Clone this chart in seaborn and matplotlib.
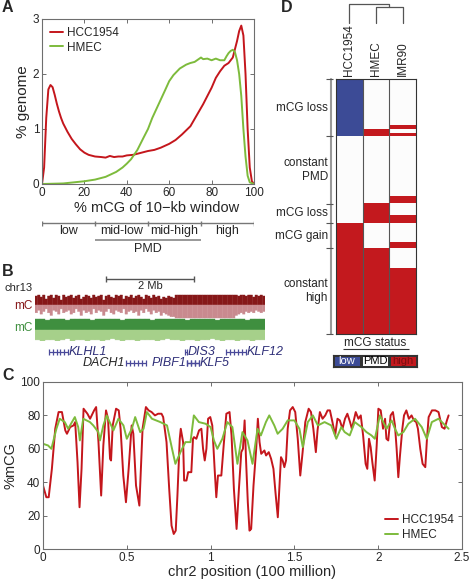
import numpy as np
import pandas as pd
import matplotlib
matplotlib.use('Agg')
import matplotlib.pyplot as plt
from matplotlib.colors import ListedColormap
import seaborn as sns

sns.set_style('ticks')
plt.rcParams['font.family'] = ['Liberation Sans', 'DejaVu Sans']

W, H = 472, 580
RED = '#c4161c'
GREEN = '#7dbb3c'
AXC = '#6e6e6e'

# ---- panel A: distribution of %mCG per 10-kb window
samples_a = ['HCC1954', 'HMEC']
hcc_dist = [(0, 0), (1, 0.3), (2, 1.2), (3, 1.72), (4, 1.8), (5, 1.76), (6, 1.62), (7, 1.46),
            (8, 1.32), (9, 1.2), (10, 1.1), (12, 0.95), (14, 0.82), (16, 0.72), (18, 0.63),
            (20, 0.57), (22, 0.53), (25, 0.5), (28, 0.49), (30, 0.48), (32, 0.51), (34, 0.49),
            (36, 0.5), (38, 0.5), (40, 0.52), (43, 0.53), (46, 0.56), (48, 0.58), (50, 0.6),
            (53, 0.62), (56, 0.66), (60, 0.73), (63, 0.8), (66, 0.9), (70, 1.05), (73, 1.25),
            (76, 1.45), (78, 1.6), (80, 1.75), (82, 1.93), (84, 2.05), (86, 2.15), (88, 2.2),
            (90, 2.3), (91, 2.45), (92, 2.6), (93, 2.78), (94, 2.88), (95, 2.7), (96, 2.0),
            (97, 1.0), (98, 0.3), (99, 0.05), (100, 0)]
hmec_dist = [(0, 0), (10, 0.01), (15, 0.03), (20, 0.05), (25, 0.08), (30, 0.13), (35, 0.22),
             (38, 0.3), (40, 0.37), (42, 0.45), (45, 0.62), (48, 0.85), (50, 1.0), (52, 1.2),
             (55, 1.45), (58, 1.7), (60, 1.87), (62, 1.98), (65, 2.1), (68, 2.17), (70, 2.2),
             (72, 2.22), (75, 2.3), (76, 2.27), (78, 2.28), (80, 2.25), (82, 2.28), (84, 2.25),
             (86, 2.25), (87, 2.32), (88, 2.38), (89, 2.42), (90, 2.44), (91, 2.4), (92, 2.25),
             (93, 2.0), (94, 1.6), (95, 1.0), (96, 0.5), (97, 0.15), (98, 0.03), (100, 0)]
class_edges = [0, 25, 50, 75, 100]
class_names = ['low', 'mid-low', 'mid-high', 'high']

# ---- panel B: chr13 browser tracks (fraction of track height, tenths)
red_up = [9, 10, 8, 10, 6, 9, 10, 7, 10, 9, 5, 10, 8, 9, 10, 7, 9, 10, 6, 8,
          10, 9, 7, 10, 8, 9, 10, 5, 9, 10, 8, 7, 10, 9, 10, 6, 9, 8, 10, 7,
          9, 10, 8, 6, 10, 9, 7, 10, 8, 9, 6, 8, 7, 9, 8, 7,
          10, 10, 10, 10, 10, 10, 10, 10, 10, 10, 10, 10, 10, 10, 10, 10, 10, 10, 10, 10,
          10, 10, 10, 10, 10, 9, 10, 10, 9, 10, 10, 8, 10, 9, 10, 9]
red_down = [6, 4, 7, 5, 3, 6, 8, 4, 5, 7, 3, 6, 5, 4, 7, 6, 3, 5, 8, 4,
            6, 5, 7, 3, 6, 4, 5, 8, 5, 3, 6, 7, 4, 5, 6, 3, 7, 5, 4, 6,
            5, 8, 4, 6, 3, 5, 7, 4, 6, 5, 8, 6, 7, 8, 9, 9,
            10, 10, 10, 10, 10, 10, 10, 10, 10, 10, 10, 10, 10, 10, 10, 10, 10, 10, 10, 10,
            10, 10, 10, 10, 8, 7, 6, 7, 5, 6, 5, 6, 4, 5, 6, 5]
green_up = [10, 10, 9, 10, 10, 10, 9, 10, 10, 10, 10, 9, 10, 10, 10, 10, 10, 9, 10, 10,
            10, 10, 10, 9, 10, 10, 10, 10, 10, 10, 9, 10, 10, 10, 10, 10, 9, 10, 10, 10,
            10, 10, 9, 10, 10, 10]
green_down = [9, 10, 9, 9, 10, 9, 8, 10, 9, 9, 10, 9, 9, 10, 9, 8, 9, 10, 9, 9,
              10, 9, 9, 9, 10, 9, 8, 9, 9, 10, 9, 9, 10, 9, 9, 8, 9, 10, 9, 9,
              10, 9, 9, 10, 9, 9]
genes = ['KLHL1', 'DIS3', 'KLF12', 'DACH1', 'PIBF1', 'KLF5']
gene_span = [(49, 68), (184.5, 186.5), (226, 246), (126, 146), (187, 199), (187, 199)]
gene_row = [0, 0, 0, 1, 1, 1]
gene_side = ['right', 'right', 'right', 'left', 'left', 'right']
gene_color = ['#2e2e78', '#2e2e78', '#2e2e78', '#262626', '#2e2e78', '#2e2e78']

# ---- panel C: chr2 %mCG profile
hcc_chr2 = [(0, 38), (0.02, 31), (0.034, 31), (0.053, 48), (0.073, 72), (0.093, 82), (0.113, 82),
            (0.133, 71), (0.143, 69), (0.162, 73), (0.182, 74), (0.192, 76), (0.206, 52),
            (0.218, 25), (0.23, 48), (0.242, 84), (0.265, 81), (0.281, 78), (0.305, 83),
            (0.317, 85), (0.331, 64), (0.347, 32), (0.36, 62), (0.376, 83), (0.388, 78),
            (0.40, 54), (0.406, 53), (0.416, 74), (0.436, 84), (0.452, 83), (0.463, 72),
            (0.479, 44), (0.495, 28), (0.511, 48), (0.529, 74), (0.539, 69), (0.555, 38),
            (0.575, 26), (0.594, 72), (0.614, 85), (0.63, 83), (0.648, 82), (0.668, 80),
            (0.687, 81), (0.707, 81), (0.717, 79), (0.737, 64), (0.753, 36), (0.767, 14),
            (0.78, 9), (0.792, 11), (0.802, 32), (0.816, 66), (0.822, 72), (0.836, 64),
            (0.842, 41), (0.856, 41), (0.866, 46), (0.885, 46), (0.895, 66), (0.901, 67),
            (0.915, 66), (0.931, 71), (0.945, 72), (0.955, 60), (0.965, 53), (0.975, 60),
            (0.985, 78), (0.998, 79), (1.01, 74), (1.024, 48), (1.034, 31), (1.044, 44),
            (1.064, 44), (1.078, 62), (1.094, 81), (1.113, 82), (1.125, 68), (1.139, 36),
            (1.155, 12), (1.169, 36), (1.183, 58), (1.193, 60), (1.203, 77), (1.212, 52),
            (1.222, 28), (1.232, 11), (1.242, 12), (1.256, 38), (1.272, 60), (1.282, 78),
            (1.292, 64), (1.302, 57), (1.321, 59), (1.331, 56), (1.347, 58), (1.361, 54),
            (1.375, 48), (1.387, 34), (1.401, 19), (1.41, 36), (1.42, 55), (1.43, 53),
            (1.44, 49), (1.45, 53), (1.46, 72), (1.474, 83), (1.49, 85), (1.505, 82),
            (1.52, 66), (1.535, 44), (1.549, 58), (1.565, 76), (1.585, 84), (1.599, 82),
            (1.613, 72), (1.628, 58), (1.638, 71), (1.652, 82), (1.668, 78), (1.684, 80),
            (1.698, 83), (1.712, 83), (1.727, 76), (1.743, 68), (1.757, 78), (1.771, 77),
            (1.787, 72), (1.802, 78), (1.816, 81), (1.832, 76), (1.843, 72), (1.857, 78),
            (1.866, 82), (1.882, 78), (1.896, 80), (1.91, 68), (1.925, 51), (1.935, 48),
            (1.945, 66), (1.955, 61), (1.965, 52), (1.979, 41), (1.991, 62), (2.001, 84),
            (2.015, 83), (2.029, 72), (2.041, 78), (2.049, 66), (2.06, 65), (2.074, 80),
            (2.088, 82), (2.1, 74), (2.11, 60), (2.12, 43), (2.13, 56), (2.144, 72),
            (2.154, 80), (2.168, 83), (2.183, 78), (2.199, 80), (2.213, 77), (2.227, 76),
            (2.237, 72), (2.251, 60), (2.265, 51), (2.281, 49), (2.291, 66), (2.301, 79),
            (2.321, 83), (2.341, 83), (2.36, 82), (2.38, 73), (2.396, 72), (2.41, 77), (2.42, 80)]
hmec_chr2 = [(0, 63), (0.03, 62), (0.05, 60), (0.08, 72), (0.1, 78), (0.13, 76), (0.15, 72),
             (0.19, 79), (0.21, 73), (0.22, 65), (0.24, 78), (0.28, 76), (0.30, 74), (0.33, 70),
             (0.34, 65), (0.36, 74), (0.38, 80), (0.42, 71), (0.45, 78), (0.48, 74), (0.50, 66),
             (0.53, 72), (0.55, 79), (0.58, 70), (0.60, 72), (0.62, 82), (0.65, 78), (0.70, 76),
             (0.74, 74), (0.77, 60), (0.79, 51), (0.82, 58), (0.85, 64), (0.88, 64), (0.90, 80),
             (0.93, 76), (0.97, 75), (1.00, 73), (1.02, 65), (1.04, 60), (1.07, 66), (1.10, 76),
             (1.13, 73), (1.16, 51), (1.19, 70), (1.22, 65), (1.25, 51), (1.28, 72), (1.30, 68),
             (1.33, 76), (1.35, 80), (1.38, 74), (1.40, 69), (1.43, 72), (1.46, 77), (1.50, 77),
             (1.53, 72), (1.55, 61), (1.58, 76), (1.61, 80), (1.64, 74), (1.68, 76), (1.72, 74),
             (1.75, 66), (1.78, 73), (1.80, 70), (1.83, 68), (1.86, 76), (1.90, 73), (1.93, 70),
             (1.96, 68), (1.98, 66), (2.01, 80), (2.05, 72), (2.08, 77), (2.10, 72), (2.12, 68),
             (2.15, 70), (2.18, 75), (2.22, 78), (2.26, 73), (2.29, 66), (2.32, 76), (2.36, 78),
             (2.40, 74), (2.42, 72)]

# ---- panel D: mCG status per region (0 = low, 1 = PMD, 2 = high), run-length encoded
samples_d = ['HCC1954', 'HMEC', 'IMR90']
runs_d = {
    'HCC1954': [(0, 57), (1, 87), (2, 111)],
    'HMEC': [(1, 50), (2, 7), (1, 67), (2, 20), (1, 25), (2, 86)],
    'IMR90': [(1, 46), (2, 4), (1, 4), (2, 3), (1, 60), (2, 7), (1, 12), (2, 8), (1, 19),
              (2, 6), (1, 20), (2, 66)],
}
group_names = ['mCG loss', 'constant\nPMD', 'mCG loss', 'mCG gain', 'constant\nhigh']
group_edges = [0, 57, 125, 144, 169, 255]
merge_heights = [0.84, 1.0]   # (HMEC, IMR90) then HCC1954
status_names = ['low', 'PMD', 'high']
status_colors = ['#3c4b96', '#fcfcfc', '#c3191e']
status_text = ['white', 'black', '#7a0e10']


def rect(l, t, r, b):
    return [l / W, 1 - b / H, (r - l) / W, (b - t) / H]


def style_box(ax):
    for sp in ax.spines.values():
        sp.set_visible(True)
        sp.set_color(AXC)
        sp.set_linewidth(0.8)
    ax.tick_params(direction='in', top=True, right=True, length=3, width=0.7,
                   color=AXC, labelsize=8.5, pad=2)


fig = plt.figure(figsize=(W / 100, H / 100), dpi=100)

# A
dfa = pd.concat([pd.DataFrame(hcc_dist, columns=['x', 'y']).assign(s=samples_a[0]),
                 pd.DataFrame(hmec_dist, columns=['x', 'y']).assign(s=samples_a[1])])
axA = fig.add_axes(rect(42, 19, 254, 184))
sns.lineplot(data=dfa, x='x', y='y', hue='s', palette=[RED, GREEN], estimator=None,
             linewidth=1.4, ax=axA)
axA.set_xlim(0, 100)
axA.set_ylim(0, 3)
axA.set_xticks([0, 20, 40, 60, 80, 100])
axA.set_yticks([0, 1, 2, 3])
axA.set_xlabel('% mCG of 10\u2212kb window', fontsize=10.5, labelpad=1)
axA.set_ylabel('% genome', fontsize=11, labelpad=2)
axA.xaxis.set_label_coords(0.54, -0.1)
style_box(axA)
axA.legend(loc='upper left', frameon=False, fontsize=8.5, handlelength=1.1,
           handletextpad=0.3, borderaxespad=0.3, labelspacing=0.2)

axBr = fig.add_axes(rect(42, 215, 254, 255))
axBr.set_xlim(0, 100)
axBr.set_ylim(255, 215)
axBr.axis('off')
axBr.hlines(223, class_edges[0], class_edges[-1], color='#777', lw=1)
axBr.vlines(class_edges, 221, 226, color='#777', lw=1)
for i, nm in enumerate(class_names):
    axBr.text((class_edges[i] + class_edges[i + 1]) / 2, 231, nm, ha='center', va='center',
              fontsize=9)
axBr.hlines(240, class_edges[1], class_edges[3], color='#888', lw=1.2)
axBr.text(50, 249, 'PMD', ha='center', va='center', fontsize=9)

# B
axB = fig.add_axes(rect(35, 294, 265, 341))
axB.set_xlim(0, 1)
axB.set_ylim(0, 47)
axB.axis('off')
for vals, base, scale, col in [(red_up, 36, 10, '#861718'), (red_down, 36, -13, '#c98a8f'),
                               (green_up, 11, 11, '#3f8f3f'), (green_down, 11, -11, '#a6d08a')]:
    n = len(vals)
    xs = (np.arange(n) + 0.5) / n
    axB.bar(xs, np.array(vals) / 10 * scale, bottom=base, width=1 / n, color=col,
            edgecolor=col, linewidth=0.3, snap=False)

# C
dfc = pd.concat([pd.DataFrame(hcc_chr2, columns=['x', 'y']).assign(s=samples_a[0]),
                 pd.DataFrame(hmec_chr2, columns=['x', 'y']).assign(s=samples_a[1])])
axC = fig.add_axes(rect(43, 382, 462, 549))
sns.lineplot(data=dfc, x='x', y='y', hue='s', palette=[RED, GREEN], estimator=None,
             linewidth=1.4, ax=axC)
axC.set_xlim(0, 2.5)
axC.set_ylim(0, 100)
axC.set_xticks([0, 0.5, 1, 1.5, 2, 2.5])
axC.set_xticklabels(['0', '0.5', '1', '1.5', '2', '2.5'])
axC.set_yticks([0, 20, 40, 60, 80, 100])
axC.set_xlabel('chr2 position (100 million)', fontsize=10.5, labelpad=1)
axC.set_ylabel('%mCG', fontsize=10.5, labelpad=2)
style_box(axC)
axC.legend(loc='lower right', frameon=False, fontsize=8.5, handlelength=1.1,
           handletextpad=0.3, borderaxespad=0.3, labelspacing=0.2)

# D
mat = np.column_stack([np.repeat([r[0] for r in runs_d[s]], [r[1] for r in runs_d[s]])
                       for s in samples_d])
cmap = ListedColormap(status_colors)
axD = fig.add_axes(rect(336, 79, 416, 334))
sns.heatmap(mat, cmap=cmap, vmin=-0.5, vmax=2.5, cbar=False, ax=axD,
            xticklabels=samples_d, yticklabels=False)
axD.xaxis.tick_top()
axD.set_xticklabels(samples_d, rotation=90, fontsize=8.5, va='bottom')
axD.tick_params(axis='x', length=0, pad=2)
for sp in axD.spines.values():
    sp.set_visible(True)
    sp.set_color('#333')
    sp.set_linewidth(0.8)
for xv in [1, 2]:
    axD.axvline(xv, color='#555', lw=0.8)
axD.plot([-0.19, -0.19], [group_edges[0], group_edges[-1]], color='#999', lw=1.5,
         clip_on=False)
axD.hlines(group_edges, -0.36, -0.1, color='#555', lw=0.8, clip_on=False)
for i, nm in enumerate(group_names):
    axD.text(-0.3, (group_edges[i] + group_edges[i + 1]) / 2, nm, ha='right', va='center',
             fontsize=8.5, linespacing=1.25)

axDen = fig.add_axes(rect(336, 4, 416, 23))
axDen.set_xlim(0, 3)
axDen.set_ylim(0, 1)
axDen.axis('off')
h1, h2 = merge_heights
dk = dict(color='#555', lw=0.9, clip_on=False)
axDen.plot([1.5, 1.5, 2.5, 2.5], [0, h1, h1, 0], **dk)
axDen.plot([0.5, 0.5, 2.0, 2.0], [0, h2, h2, h1], **dk)

axL = fig.add_axes(rect(333, 355, 417, 367))
sns.heatmap([[0, 1, 2]], cmap=cmap, vmin=-0.5, vmax=2.5, cbar=False, ax=axL,
            xticklabels=False, yticklabels=False, linewidths=0.8, linecolor='#333')
for sp in axL.spines.values():
    sp.set_visible(True)
    sp.set_color('#333')
for i, nm in enumerate(status_names):
    axL.text(i + 0.5, 0.52, nm, ha='center', va='center', fontsize=8, color=status_text[i])

# overlay for annotations in pixel coordinates
ov = fig.add_axes([0, 0, 1, 1])
ov.set_xlim(0, W)
ov.set_ylim(H, 0)
ov.axis('off')
for letter, (x, y) in zip('ABCD', [(2, 8), (2, 271), (2, 376), (281, 8)]):
    ov.text(x, y, letter, fontsize=11.5, fontweight='bold', va='center', ha='left')

ov.text(375, 343, 'mCG status', ha='center', va='center', fontsize=8.5)
ov.hlines(349, 343, 409, color='#333', lw=0.8)

ov.hlines(279, 106, 194, color='#555', lw=1)
ov.vlines([106, 194], 276, 282, color='#555', lw=1)
ov.text(150, 286, '2 Mb', ha='center', va='center', fontsize=8)
ov.text(33, 288, 'chr13', ha='right', va='center', fontsize=8)
ov.text(33, 306, 'mC', ha='right', va='center', fontsize=8.5, color='#861718')
ov.text(33, 328, 'mC', ha='right', va='center', fontsize=8.5, color='#3f8f3f')

for nm, (g0, g1), row, side, col in zip(genes, gene_span, gene_row, gene_side, gene_color):
    y = 352 + 11 * row
    ov.hlines(y, g0, g1, color='#4a4a9a', lw=0.9)
    nt = max(2, int((g1 - g0) / 3))
    ov.vlines(np.linspace(g0, g1, nt), y - 3, y + 3, color='#4a4a9a', lw=0.9)
    if side == 'right':
        ov.text(g1 + 1, y, nm, ha='left', va='center', fontsize=9, style='italic', color=col)
    else:
        ov.text(g0 - 1, y, nm, ha='right', va='center', fontsize=9, style='italic', color=col)

fig.savefig('out.png', dpi=100)
